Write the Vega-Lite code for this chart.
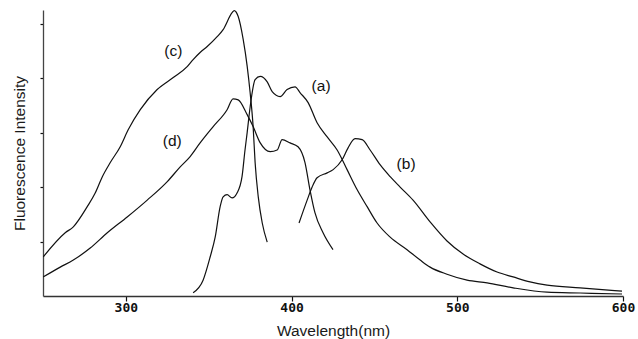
{
  "$schema": "https://vega.github.io/schema/vega-lite/v6.json",
  "width": 580,
  "height": 286,
  "autosize": {"type": "none"},
  "padding": {"left": 43, "top": 10, "right": 15, "bottom": 43},
  "background": "white",
  "config": {"view": {"stroke": null}},
  "datasets": {
    "curves": [
      {"series": "c", "wl": 250.2, "v": 0.72},
      {"series": "c", "wl": 263.4, "v": 1.16},
      {"series": "c", "wl": 268.3, "v": 1.27},
      {"series": "c", "wl": 276.7, "v": 1.64},
      {"series": "c", "wl": 281.5, "v": 1.89},
      {"series": "c", "wl": 285.8, "v": 2.19},
      {"series": "c", "wl": 290.6, "v": 2.45},
      {"series": "c", "wl": 296.6, "v": 2.74},
      {"series": "c", "wl": 301.4, "v": 3.05},
      {"series": "c", "wl": 308.7, "v": 3.42},
      {"series": "c", "wl": 318.9, "v": 3.79},
      {"series": "c", "wl": 328.6, "v": 4.01},
      {"series": "c", "wl": 337.0, "v": 4.21},
      {"series": "c", "wl": 340.6, "v": 4.34},
      {"series": "c", "wl": 344.8, "v": 4.47},
      {"series": "c", "wl": 349.1, "v": 4.58},
      {"series": "c", "wl": 355.1, "v": 4.76},
      {"series": "c", "wl": 358.7, "v": 4.89},
      {"series": "c", "wl": 364.1, "v": 5.2},
      {"series": "c", "wl": 365.4, "v": 5.24},
      {"series": "c", "wl": 367.8, "v": 5.13},
      {"series": "c", "wl": 370.8, "v": 4.71},
      {"series": "c", "wl": 373.2, "v": 4.22},
      {"series": "c", "wl": 375.0, "v": 3.73},
      {"series": "c", "wl": 376.8, "v": 3.11},
      {"series": "c", "wl": 378.0, "v": 2.45},
      {"series": "c", "wl": 379.9, "v": 1.82},
      {"series": "c", "wl": 382.3, "v": 1.34},
      {"series": "c", "wl": 385.3, "v": 0.99},
      {"series": "d", "wl": 250.2, "v": 0.35},
      {"series": "d", "wl": 260.4, "v": 0.53},
      {"series": "d", "wl": 268.3, "v": 0.66},
      {"series": "d", "wl": 278.5, "v": 0.88},
      {"series": "d", "wl": 288.8, "v": 1.16},
      {"series": "d", "wl": 300.8, "v": 1.45},
      {"series": "d", "wl": 312.9, "v": 1.76},
      {"series": "d", "wl": 325.0, "v": 2.1},
      {"series": "d", "wl": 332.8, "v": 2.37},
      {"series": "d", "wl": 338.8, "v": 2.56},
      {"series": "d", "wl": 344.8, "v": 2.81},
      {"series": "d", "wl": 352.7, "v": 3.11},
      {"series": "d", "wl": 361.1, "v": 3.42},
      {"series": "d", "wl": 364.7, "v": 3.62},
      {"series": "d", "wl": 367.8, "v": 3.6},
      {"series": "d", "wl": 373.2, "v": 3.33},
      {"series": "d", "wl": 376.8, "v": 3.11},
      {"series": "d", "wl": 381.1, "v": 2.81},
      {"series": "d", "wl": 387.1, "v": 2.65},
      {"series": "d", "wl": 391.3, "v": 2.68},
      {"series": "d", "wl": 394.3, "v": 2.87},
      {"series": "d", "wl": 399.1, "v": 2.81},
      {"series": "d", "wl": 403.9, "v": 2.74},
      {"series": "d", "wl": 408.1, "v": 2.45},
      {"series": "d", "wl": 411.1, "v": 1.95},
      {"series": "d", "wl": 414.1, "v": 1.53},
      {"series": "d", "wl": 419.0, "v": 1.16},
      {"series": "d", "wl": 425.0, "v": 0.85},
      {"series": "a", "wl": 340.6, "v": 0.06},
      {"series": "a", "wl": 346.6, "v": 0.29},
      {"series": "a", "wl": 350.9, "v": 0.72},
      {"series": "a", "wl": 353.9, "v": 1.08},
      {"series": "a", "wl": 356.9, "v": 1.64},
      {"series": "a", "wl": 358.7, "v": 1.82},
      {"series": "a", "wl": 361.1, "v": 1.86},
      {"series": "a", "wl": 364.1, "v": 1.8},
      {"series": "a", "wl": 367.1, "v": 1.89},
      {"series": "a", "wl": 370.1, "v": 2.19},
      {"series": "a", "wl": 371.9, "v": 2.68},
      {"series": "a", "wl": 373.2, "v": 3.0},
      {"series": "a", "wl": 375.0, "v": 3.47},
      {"series": "a", "wl": 378.0, "v": 3.97},
      {"series": "a", "wl": 381.1, "v": 4.03},
      {"series": "a", "wl": 385.3, "v": 3.93},
      {"series": "a", "wl": 388.3, "v": 3.75},
      {"series": "a", "wl": 393.1, "v": 3.66},
      {"series": "a", "wl": 397.3, "v": 3.79},
      {"series": "a", "wl": 402.1, "v": 3.84},
      {"series": "a", "wl": 405.2, "v": 3.73},
      {"series": "a", "wl": 410.0, "v": 3.55},
      {"series": "a", "wl": 415.4, "v": 3.18},
      {"series": "a", "wl": 421.5, "v": 2.92},
      {"series": "a", "wl": 427.5, "v": 2.68},
      {"series": "a", "wl": 433.5, "v": 2.32},
      {"series": "a", "wl": 439.6, "v": 1.95},
      {"series": "a", "wl": 445.6, "v": 1.64},
      {"series": "a", "wl": 451.6, "v": 1.34},
      {"series": "a", "wl": 459.5, "v": 1.08},
      {"series": "a", "wl": 469.7, "v": 0.85},
      {"series": "a", "wl": 477.6, "v": 0.66},
      {"series": "a", "wl": 483.6, "v": 0.53},
      {"series": "a", "wl": 493.8, "v": 0.4},
      {"series": "a", "wl": 505.9, "v": 0.29},
      {"series": "a", "wl": 518.0, "v": 0.24},
      {"series": "a", "wl": 533.7, "v": 0.15},
      {"series": "a", "wl": 554.2, "v": 0.07},
      {"series": "a", "wl": 574.1, "v": 0.055},
      {"series": "a", "wl": 599.4, "v": 0.037},
      {"series": "b", "wl": 404.5, "v": 1.34},
      {"series": "b", "wl": 409.4, "v": 1.76},
      {"series": "b", "wl": 412.4, "v": 2.0},
      {"series": "b", "wl": 415.4, "v": 2.17},
      {"series": "b", "wl": 421.5, "v": 2.26},
      {"series": "b", "wl": 425.1, "v": 2.32},
      {"series": "b", "wl": 430.5, "v": 2.5},
      {"series": "b", "wl": 434.1, "v": 2.72},
      {"series": "b", "wl": 438.3, "v": 2.89},
      {"series": "b", "wl": 442.6, "v": 2.87},
      {"series": "b", "wl": 447.4, "v": 2.68},
      {"series": "b", "wl": 453.4, "v": 2.41},
      {"series": "b", "wl": 459.5, "v": 2.19},
      {"series": "b", "wl": 465.5, "v": 2.0},
      {"series": "b", "wl": 473.3, "v": 1.76},
      {"series": "b", "wl": 483.6, "v": 1.36},
      {"series": "b", "wl": 493.8, "v": 1.01},
      {"series": "b", "wl": 503.5, "v": 0.77},
      {"series": "b", "wl": 513.7, "v": 0.59},
      {"series": "b", "wl": 524.0, "v": 0.44},
      {"series": "b", "wl": 533.7, "v": 0.35},
      {"series": "b", "wl": 543.9, "v": 0.26},
      {"series": "b", "wl": 554.2, "v": 0.2},
      {"series": "b", "wl": 574.1, "v": 0.15},
      {"series": "b", "wl": 599.4, "v": 0.09}
    ],
    "labels": [
      {"label": "(c)", "wl": 328.6, "v": 4.49},
      {"label": "(d)", "wl": 328.0, "v": 2.85},
      {"label": "(a)", "wl": 417.8, "v": 3.86},
      {"label": "(b)", "wl": 469.1, "v": 2.43}
    ]
  },
  "layer": [
    {
      "data": {"name": "curves"},
      "mark": {"type": "line", "stroke": "#111111", "strokeWidth": 1.2, "interpolate": "monotone"},
      "encoding": {
        "x": {
          "field": "wl", "type": "quantitative",
          "scale": {"domain": [250, 600], "nice": false, "zero": false},
          "axis": {
            "title": "Wavelength(nm)",
            "values": [300, 400, 500, 600],
            "grid": false,
            "domainColor": "#333333",
            "domainWidth": 1.5,
            "tickColor": "#111111",
            "tickSize": 5,
            "tickWidth": 1.2,
            "labelFont": "DejaVu Sans Mono",
            "labelFontWeight": "bold",
            "labelFontSize": 13,
            "labelColor": "#111111",
            "labelPadding": 0,
            "labelFlush": false,
            "titleFont": "Liberation Sans",
            "titleFontWeight": "normal",
            "titleFontSize": 15.5,
            "titleColor": "#1a1a1a",
            "titleBaseline": "top",
            "titleY": 27
          }
        },
        "y": {
          "field": "v", "type": "quantitative",
          "scale": {"domain": [0, 5.25], "nice": false, "zero": true},
          "axis": {
            "title": "Fluorescence Intensity",
            "values": [1, 2, 3, 4, 5],
            "labels": false,
            "grid": false,
            "domainColor": "#444444",
            "domainWidth": 1.3,
            "tickColor": "#111111",
            "tickSize": 3,
            "tickWidth": 1.2,
            "titleFont": "Liberation Sans",
            "titleFontWeight": "normal",
            "titleFontSize": 15.5,
            "titleColor": "#1a1a1a",
            "titleBaseline": "alphabetic",
            "titleX": -19
          }
        },
        "detail": {"field": "series", "type": "nominal"}
      }
    },
    {
      "data": {"name": "labels"},
      "mark": {"type": "text", "font": "Liberation Sans", "fontSize": 15.5, "color": "#111111", "align": "center", "baseline": "middle"},
      "encoding": {
        "x": {"field": "wl", "type": "quantitative"},
        "y": {"field": "v", "type": "quantitative"},
        "text": {"field": "label", "type": "nominal"}
      }
    }
  ]
}
